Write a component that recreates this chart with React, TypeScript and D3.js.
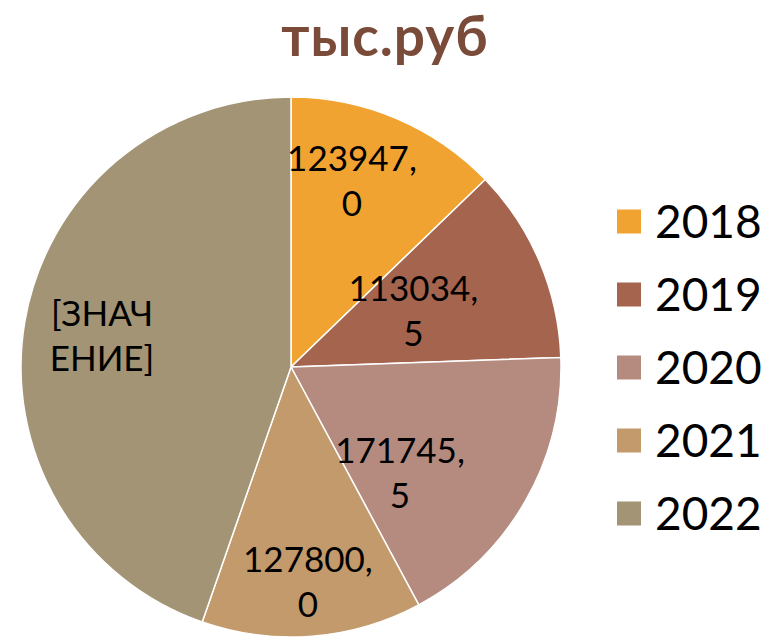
import React from "react";
import * as d3 from "d3";

const categories = ["2018", "2019", "2020", "2021", "2022"];
const values = [123947.0, 113034.5, 171745.5, 127800.0, 433100];
const labelLines = [["123947,", "0"], ["113034,", "5"], ["171745,", "5"], ["127800,", "0"], ["[ЗНАЧ", "ЕНИЕ]"]];
const colors = ["#F0A330", "#A5644E", "#B58B80", "#C39A6B", "#A29474"];
const title = "тыс.руб";

// label placement (angle offset from slice middle in degrees, radius fraction)
const labelPlacement = [[-5, 0.73], [-2, 0.5], [14, 0.56], [0, 0.795], [0, 0.71]];

const W = 774, H = 637;
const cx = 291, cy = 367, R = 270;
const FONT = "Lato, 'Open Sans', sans-serif";

export default function App() {
  const pie = d3.pie<number>().sort(null).value((d) => d);
  const arcs = pie(values);
  const arcGen = d3.arc<d3.PieArcDatum<number>>().innerRadius(0).outerRadius(R);
  const legendY = d3.scaleBand<string>().domain(categories).range([185, 550]);

  return (
    <svg width={W} height={H} style={{ position: "absolute", left: 0, top: 0, background: "#fff" }}>
      <text x={385} y={56} textAnchor="middle" fontFamily={FONT} fontWeight={700} fontSize={55} letterSpacing={1} fill="#7B4B3A">
        {title}
      </text>
      <g transform={`translate(${cx},${cy})`}>
        {arcs.map((a, i) => (
          <path key={i} d={arcGen(a) || ""} fill={colors[i]} stroke="#fff" strokeWidth={1.5} />
        ))}
        {arcs.map((a, i) => {
          const mid = (a.startAngle + a.endAngle) / 2 + (labelPlacement[i][0] * Math.PI) / 180;
          const r = labelPlacement[i][1] * R;
          const x = Math.sin(mid) * r;
          const y = -Math.cos(mid) * r;
          return (
            <text key={i} x={x} y={y} textAnchor="middle" fontFamily={FONT} fontSize={35} fill="#000">
              {labelLines[i].map((l, j) => (
                <tspan key={j} x={x} dy={j === 0 ? -9 : 45}>
                  {l}
                </tspan>
              ))}
            </text>
          );
        })}
      </g>
      {categories.map((c, i) => {
        const y = (legendY(c) || 0) + legendY.bandwidth() / 2;
        return (
          <g key={c}>
            <rect x={617} y={y - 12} width={24} height={24} fill={colors[i]} />
            <text x={655} y={y + 16} fontFamily={FONT} fontSize={46} fill="#000">
              {c}
            </text>
          </g>
        );
      })}
    </svg>
  );
}
